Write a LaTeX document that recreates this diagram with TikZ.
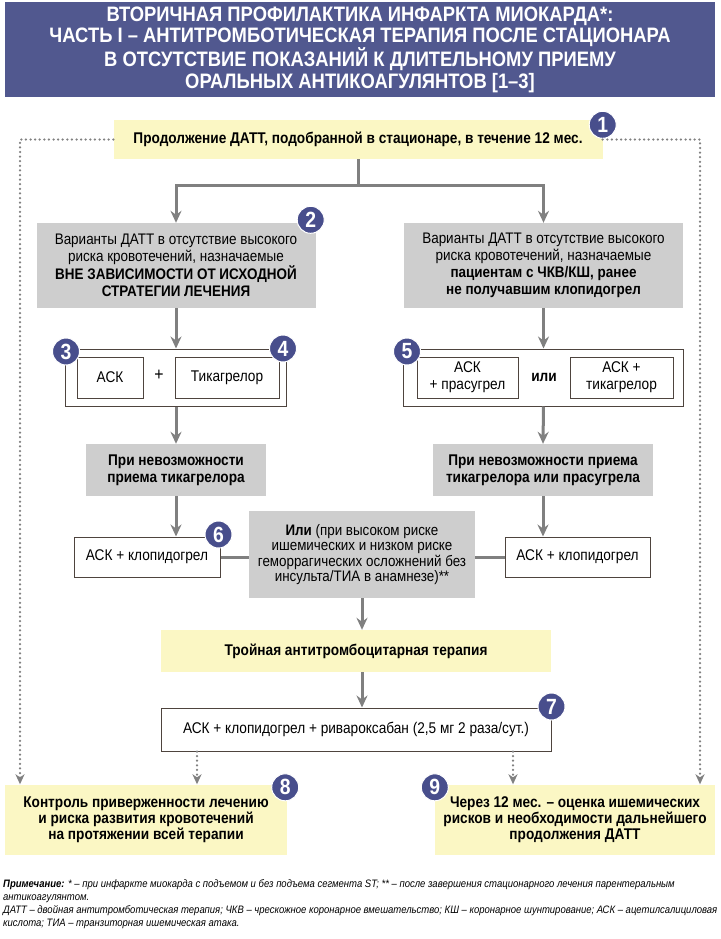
\documentclass[tikz,border=0pt]{standalone}
\usepackage{fontspec}
\setmainfont{Liberation Sans}[FakeStretch=0.88]
\usetikzlibrary{positioning,arrows.meta}
\definecolor{titleblue}{RGB}{81,88,143}
\definecolor{badgeblue}{RGB}{72,78,140}
\definecolor{boxgray}{RGB}{206,206,206}
\definecolor{boxyellow}{RGB}{251,247,196}
\definecolor{linegray}{RGB}{128,128,128}
\definecolor{edgebrown}{RGB}{78,68,62}

\begin{document}
\begin{tikzpicture}[
    x=1pt, y=-1pt,
    every node/.style={inner sep=2pt},
    title/.style={rectangle, fill=titleblue, text=white, align=center, minimum width=710pt, minimum height=95pt, font=\fontsize{20.9}{21.5}\selectfont\bfseries},
    yellowbox/.style={rectangle, fill=boxyellow, align=center, font=\fontsize{15.5}{16}\selectfont\bfseries},
    graybox/.style={rectangle, fill=boxgray, align=center, font=\fontsize{15.3}{17}\selectfont},
    drug/.style={rectangle, draw=edgebrown, line width=1pt, fill=white, align=center, font=\fontsize{15.5}{17}\selectfont},
    group/.style={rectangle, draw=edgebrown, line width=1pt, minimum height=57pt},
    badge/.style={circle, fill=badgeblue, draw=white, line width=1pt, text=white, minimum size=27pt, inner sep=0pt, font=\fontsize{22}{22}\selectfont\bfseries},
    arrow/.style={-{Stealth[length=12pt, width=11pt, inset=4pt]}, line width=3pt, draw=linegray},
    link/.style={line width=3pt, draw=linegray},
    dotarrow/.style={-{Stealth[length=10pt, width=9pt, inset=3pt]}, line width=2.5pt, draw=linegray, dash pattern=on 0pt off 4.6pt, line cap=round}
]
\useasboundingbox (0,0) rectangle (720,939);

% Title
\node[title] (head) at (360,49.5) {ВТОРИЧНАЯ ПРОФИЛАКТИКА ИНФАРКТА МИОКАРДА*:\\
ЧАСТЬ I – АНТИТРОМБОТИЧЕСКАЯ ТЕРАПИЯ ПОСЛЕ СТАЦИОНАРА\\
В ОТСУТСТВИЕ ПОКАЗАНИЙ К ДЛИТЕЛЬНОМУ ПРИЕМУ\\
ОРАЛЬНЫХ АНТИКОАГУЛЯНТОВ [1–3]};

% Top box
\node[yellowbox, minimum width=489pt, minimum height=39pt] (start) at (358,139.5) {Продолжение ДАТТ, подобранной в стационаре, в течение 12 мес.};
\node[badge] (n1) at ([shift={(0,5)}]start.north east) {1};

% Second row - DAPT variants
\node[graybox, minimum width=279pt, minimum height=85pt] (varl) at (176,265.5) {Варианты ДАТТ в отсутствие высокого\\
риска кровотечений, назначаемые\\
\textbf{ВНЕ ЗАВИСИМОСТИ ОТ ИСХОДНОЙ}\\
\textbf{СТРАТЕГИИ ЛЕЧЕНИЯ}};
\node[badge] (n2) at ([shift={(-5,-3)}]varl.north east) {2};

\node[graybox, minimum width=279pt, minimum height=85pt] (varr) at (543.5,265.5) {Варианты ДАТТ в отсутствие высокого\\
риска кровотечений, назначаемые\\
\textbf{пациентам с ЧКВ/КШ, ранее}\\
\textbf{не получавшим клопидогрел}};

% Third row - drug groups
\node[group, minimum width=221pt] (grpl) at (176,377.5) {};
\node[drug, minimum width=66pt, minimum height=41pt] (askl) at (110,377.5) {АСК};
\node[font=\fontsize{18}{18}\selectfont] (plus) at (159,375) {+};
\node[drug, minimum width=104pt, minimum height=41pt] (tica) at (227,377.5) {Тикагрелор};
\node[badge] (n3) at ([shift={(1,3)}]grpl.north west) {3};
\node[badge] (n4) at ([shift={(-4,0)}]grpl.north east) {4};

\node[group, minimum width=280pt] (grpr) at (543.5,377.5) {};
\node[drug, minimum width=101pt, minimum height=41pt] (prasu) at (467.5,377.5) {АСК\\+ прасугрел};
\node[font=\fontsize{15.5}{15.5}\selectfont\bfseries] (ili) at (544,377.5) {или};
\node[drug, minimum width=103pt, minimum height=41pt] (ticar) at (621.5,377.5) {АСК +\\тикагрелор};
\node[badge] (n5) at ([shift={(4,3)}]grpr.north west) {5};

% Fourth row - if not possible
\node[graybox, minimum width=180pt, minimum height=52pt, font=\fontsize{15.5}{17}\selectfont\bfseries] (nol) at (176,470) {При невозможности\\приема тикагрелора};
\node[graybox, minimum width=220pt, minimum height=52pt, font=\fontsize{15.5}{17}\selectfont\bfseries] (nor) at (543,470) {При невозможности приема\\тикагрелора или прасугрела};

% Fifth row - clopidogrel
\node[drug, minimum width=146pt, minimum height=40pt] (clopl) at (147,557) {АСК + клопидогрел};
\node[drug, minimum width=145pt, minimum height=40pt] (clopr) at (577.5,557) {АСК + клопидогрел};
\node[badge] (n6) at ([shift={(-2,-2)}]clopl.north east) {6};
\node[graybox, minimum width=226pt, minimum height=87pt, font=\fontsize{15.2}{15.5}\selectfont] (orbox) at (362,554.5) {\textbf{Или} (при высоком риске\\
ишемических и низком риске\\
геморрагических осложнений без\\
инсульта/ТИА в анамнезе)**};

% Triple therapy
\node[yellowbox, minimum width=390pt, minimum height=42pt] (triple) at (356,651) {Тройная антитромбоцитарная терапия};
\node[drug, minimum width=390pt, minimum height=43pt] (riva) at (356,729.5) {АСК + клопидогрел + ривароксабан (2,5 мг 2 раза/сут.)};
\node[badge] (n7) at ([shift={(0,-1)}]riva.north east) {7};

% Bottom row - follow-up
\node[yellowbox, minimum width=282pt, minimum height=70pt] (ctrl) at (146,819.5) {Контроль приверженности лечению\\
и риска развития кровотечений\\
на протяжении всей терапии};
\node[yellowbox, minimum width=280pt, minimum height=70pt] (after) at (575,819.5) {Через 12 мес. – оценка ишемических\\
рисков и необходимости дальнейшего\\
продолжения ДАТТ};
\node[badge] (n8) at ([shift={(-2,3)}]ctrl.north east) {8};
\node[badge] (n9) at ([shift={(0,3)}]after.north west) {9};

% Note
\node[anchor=north west, align=left, inner sep=0pt, font=\fontsize{10.8}{13}\selectfont\itshape] (note) at (3,879) {\textbf{Примечание:} * – при инфаркте миокарда с подъемом и без подъема сегмента ST; ** – после завершения стационарного лечения парентеральным\\
антикоагулянтом.\\
ДАТТ – двойная антитромботическая терапия; ЧКВ – чрескожное коронарное вмешательство; КШ – коронарное шунтирование; АСК – ацетилсалициловая\\
кислота; ТИА – транзиторная ишемическая атака.};

% Connectors
\coordinate (fork) at (358,185);
\draw[link] (start.south) -- (fork);
\draw[arrow] (fork) -| (varl.north);
\draw[arrow] (fork) -| (varr.north);
\draw[arrow] (varl.south) -- (grpl.north);
\draw[arrow] (varr.south) -- (grpr.north);
\draw[arrow] (grpl.south) -- (nol.north);
\draw[arrow] (grpr.south) -- (nor.north);
\draw[arrow] (nol.south) -- (nol.south |- clopl.north);
\draw[arrow] (nor.south) -- (nor.south |- clopr.north);
\draw[link] (clopl.east) -- (orbox.west |- clopl.east);
\draw[link] (orbox.east |- clopr.west) -- (clopr.west);
\draw[arrow] (orbox.south) -- (orbox.south |- triple.north);
\draw[arrow] (triple.south -| orbox.south) -- (orbox.south |- riva.north);

% Dotted feedback lines
\coordinate (cornl) at (20,139.5);
\coordinate (cornr) at (700,139.5);
\coordinate (dotl) at (197,0);
\coordinate (dotr) at (513,0);
\draw[dotarrow] (start.west) -- (cornl) -- (cornl |- ctrl.north);
\draw[dotarrow] (start.east) -- (cornr) -- (cornr |- after.north);
\draw[dotarrow] (riva.south -| dotl) -- (ctrl.north -| dotl);
\draw[dotarrow] (riva.south -| dotr) -- (after.north -| dotr);

\end{tikzpicture}
\end{document}
